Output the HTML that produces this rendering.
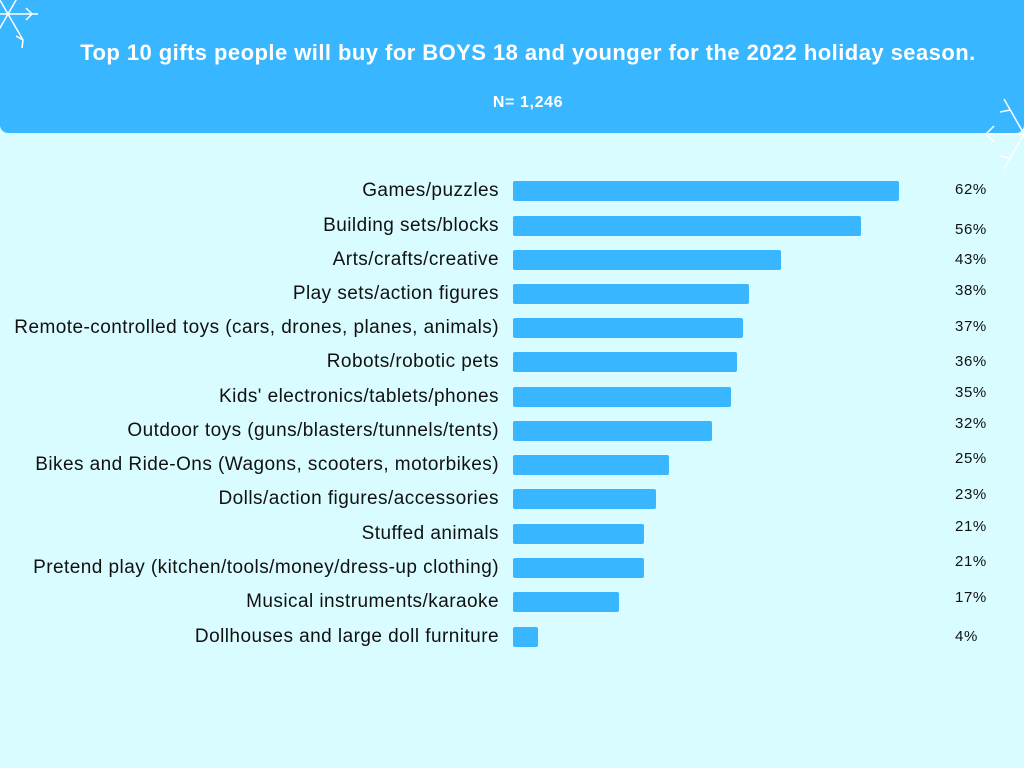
<!DOCTYPE html>
<html><head><style>
body{margin:0;width:1024px;height:768px;background:#d8fcff;position:relative;overflow:hidden;font-family:"Liberation Sans",sans-serif}
.hdr{position:absolute;left:0;top:0;width:1024px;height:133px;background:#38b6ff;border-radius:0 0 8px 8px}
.t{position:absolute;left:0;width:1056px;text-align:center;color:#fff;font-weight:bold}
.l{position:absolute;right:525px;font-size:19px;letter-spacing:0.45px;color:#111;white-space:nowrap;line-height:20px}
.b{position:absolute;left:513px;height:20px;background:#38b6ff;border-radius:2px}
.p{position:absolute;left:955px;font-size:15px;letter-spacing:0.6px;color:#111;line-height:16px}
</style></head><body>
<div class="hdr"></div>
<svg style="position:absolute;left:0;top:0" width="60" height="62" stroke="#fff" stroke-width="1.5" fill="none">
<g transform="translate(8,14)"><line x1="-30" y1="0" x2="30" y2="0"/><line x1="-15" y1="-26" x2="15" y2="26"/><line x1="15" y1="-26" x2="-15" y2="26"/><path d="M18 -6 L24 0 L18 6 M8 22 L15 26 L14 34"/></g></svg>
<svg style="position:absolute;left:978px;top:88px" width="46" height="92" stroke="#fff" stroke-width="1.5" fill="none">
<g transform="translate(46,46)"><line x1="-40" y1="0" x2="0" y2="0"/><line x1="-20" y1="-35" x2="0" y2="0"/><line x1="-20" y1="35" x2="0" y2="0"/><path d="M-30 -8 L-38 0 L-30 8 M-14 -24 L-24 -22 M-14 24 L-24 22"/></g></svg>
<div class="t" style="top:40px;font-size:22px;letter-spacing:0.45px">Top 10 gifts people will buy for BOYS 18 and younger for the 2022 holiday season.</div>
<div class="t" style="top:94px;font-size:16px;letter-spacing:0.6px">N= 1,246</div>

<div class="l" style="top:181px">Games/puzzles</div><div class="b" style="top:181px;width:386px"></div><div class="p" style="top:182px">62%</div>
<div class="l" style="top:216px">Building sets/blocks</div><div class="b" style="top:216px;width:348px"></div><div class="p" style="top:222px">56%</div>
<div class="l" style="top:250px">Arts/crafts/creative</div><div class="b" style="top:250px;width:268px"></div><div class="p" style="top:252px">43%</div>
<div class="l" style="top:284px">Play sets/action figures</div><div class="b" style="top:284px;width:236px"></div><div class="p" style="top:283px">38%</div>
<div class="l" style="top:318px">Remote-controlled toys (cars, drones, planes, animals)</div><div class="b" style="top:318px;width:230px"></div><div class="p" style="top:319px">37%</div>
<div class="l" style="top:352px">Robots/robotic pets</div><div class="b" style="top:352px;width:224px"></div><div class="p" style="top:354px">36%</div>
<div class="l" style="top:387px">Kids' electronics/tablets/phones</div><div class="b" style="top:387px;width:218px"></div><div class="p" style="top:385px">35%</div>
<div class="l" style="top:421px">Outdoor toys (guns/blasters/tunnels/tents)</div><div class="b" style="top:421px;width:199px"></div><div class="p" style="top:416px">32%</div>
<div class="l" style="top:455px">Bikes and Ride-Ons (Wagons, scooters, motorbikes)</div><div class="b" style="top:455px;width:156px"></div><div class="p" style="top:451px">25%</div>
<div class="l" style="top:489px">Dolls/action figures/accessories</div><div class="b" style="top:489px;width:143px"></div><div class="p" style="top:487px">23%</div>
<div class="l" style="top:524px">Stuffed animals</div><div class="b" style="top:524px;width:131px"></div><div class="p" style="top:519px">21%</div>
<div class="l" style="top:558px">Pretend play (kitchen/tools/money/dress-up clothing)</div><div class="b" style="top:558px;width:131px"></div><div class="p" style="top:554px">21%</div>
<div class="l" style="top:592px">Musical instruments/karaoke</div><div class="b" style="top:592px;width:106px"></div><div class="p" style="top:590px">17%</div>
<div class="l" style="top:627px">Dollhouses and large doll furniture</div><div class="b" style="top:627px;width:25px"></div><div class="p" style="top:629px">4%</div>
</body></html>
